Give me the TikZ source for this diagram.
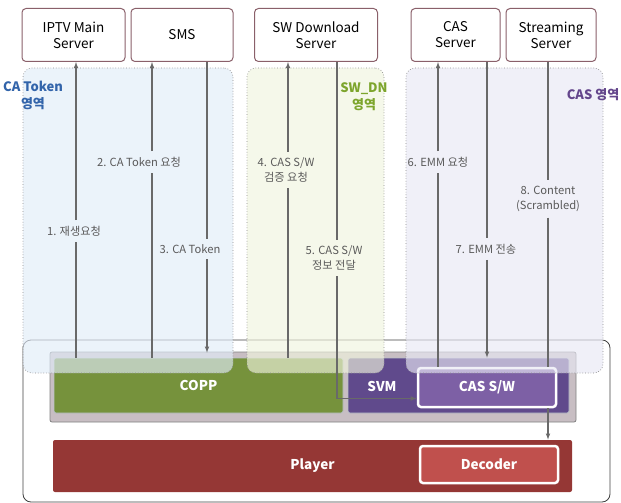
\documentclass[tikz,border=0pt]{standalone}
\usepackage{fontspec}
\setmainfont{Noto Sans CJK KR}
\usetikzlibrary{%
  arrows,%
  positioning,%
  calc}
\definecolor{srvborder}{RGB}{138,96,106}
\definecolor{flowgray}{RGB}{105,105,105}
\definecolor{msgtext}{RGB}{90,90,90}
\definecolor{cablue}{RGB}{225,236,248}
\definecolor{cabluetext}{RGB}{50,100,170}
\definecolor{swgreen}{RGB}{240,244,222}
\definecolor{swgreentext}{RGB}{125,165,45}
\definecolor{caspurple}{RGB}{232,232,244}
\definecolor{caspurpletext}{RGB}{100,70,140}
\definecolor{coppgreen}{RGB}{118,146,60}
\definecolor{svmpurple}{RGB}{96,74,140}
\definecolor{caswpurple}{RGB}{125,96,165}
\definecolor{playerred}{RGB}{149,55,53}
\definecolor{decoderred}{RGB}{192,80,77}
\definecolor{bandgray}{RGB}{200,190,195}

\begin{document}
\begin{tikzpicture}[
  x=1pt, y=-1pt, >=latex, line width=0.75pt,
  font=\fontsize{11}{13}\selectfont,
  server/.style={rectangle, draw=srvborder, fill=white, rounded corners=4pt, line width=1pt, align=center, inner sep=0pt, font=\fontsize{13.5}{16}\selectfont},
  area/.style={rectangle, draw=gray!90, dotted, line width=0.7pt, rounded corners=9pt, fill opacity=0.65, inner sep=0pt},
  areatext/.style={align=center, font=\bfseries\fontsize{13}{17}\selectfont, inner sep=0pt},
  block/.style={rectangle, rounded corners=2pt, text=white, font=\bfseries\fontsize{13.5}{16}\selectfont, inner sep=0pt},
  blocktext/.style={text=white, font=\bfseries\fontsize{13.5}{16}\selectfont, inner sep=0pt},
  msg/.style={align=center, text=msgtext, inner ysep=5.5pt, inner xsep=1pt, font=\fontsize{11.2}{15}\selectfont},
  flow/.style={draw=flowgray, line width=1.1pt}
]
\useasboundingbox (0,0) rectangle (621,503);

% servers
\node[server, minimum width=103pt, minimum height=53pt] (iptv) at (73.5,35) {IPTV Main\\Server};
\node[server, minimum width=102pt, minimum height=53pt] (sms) at (182,35) {SMS};
\node[server, minimum width=123pt, minimum height=53pt] (swdn) at (316,35) {SW Download\\Server};
\node[server, minimum width=89pt, minimum height=53pt] (cas) at (455.5,35) {CAS\\Server};
\node[server, minimum width=90pt, minimum height=53pt] (stream) at (551,35) {Streaming\\Server};

% terminal
\node[rectangle, draw=black!75, rounded corners=8pt, line width=0.8pt, minimum width=587pt, minimum height=162pt, inner sep=0pt] (stb) at (316.5,421) {};
\node[rectangle, draw=gray, fill=bandgray, rounded corners=2pt, minimum width=526pt, minimum height=70pt, inner sep=0pt] (band) at (313,387) {};
\node[block, fill=coppgreen, draw=cablue!60!gray, minimum width=289pt, minimum height=55pt] (copp) at (198.5,385.5) {COPP};
\node[block, fill=svmpurple, draw=cablue!60!gray, minimum width=221pt, minimum height=55pt] (svm) at (458.5,385.5) {};
\node[blocktext] (svmtext) at (382,386) {SVM};
\node[block, fill=caswpurple, draw=white, line width=2.5pt, rounded corners=3pt, minimum width=138pt, minimum height=39pt] (cassw) at (487,387.5) {CAS S/W};
\node[block, fill=playerred, minimum width=519pt, minimum height=52pt] (player) at (312.5,466) {Player};
\node[block, fill=decoderred, draw=white, line width=2.5pt, rounded corners=3pt, minimum width=138pt, minimum height=37pt] (decoder) at (489,464.5) {Decoder};

% areas
\node[area, fill=cablue, minimum width=210pt, minimum height=305pt] (caarea) at (128,220.5) {};
\node[area, fill=swgreen, minimum width=137pt, minimum height=305pt] (swarea) at (315.5,220.5) {};
\node[area, fill=caspurple, minimum width=197pt, minimum height=305pt] (casarea) at (504.5,220.5) {};
\node[areatext, text=cabluetext] (catxt) at (33,95) {CA Token\\영역};
\node[areatext, text=swgreentext] (swtxt) at (364,97) {SW\_DN\\영역};
\node[areatext, text=caspurpletext] (castxt) at (593,95) {CAS 영역};

% messages
\node[msg] (m1) at (74,231) {1. 재생요청};
\node[msg] (m2) at (139,162) {2. CA Token 요청};
\node[msg] (m3) at (190,249) {3. CA Token};
\node[msg] (m4) at (286,170) {4. CAS S/W\\검증 요청};
\node[msg] (m5) at (334,258) {5. CAS S/W\\정보 전달};
\node[msg] (m6) at (438,162) {6. EMM 요청};
\node[msg] (m7) at (486,249) {7. EMM 전송};
\node[msg] (m8) at (548,199) {8. Content\\(Scrambled)};

\draw[flow] (copp.north -| 76,0) -- (m1.south -| 76,0);
\draw[flow,->] (m1.north -| 76,0) -- (iptv.south -| 76,0);
\draw[flow] (copp.north -| 152,0) -- (m2.south -| 152,0);
\draw[flow,->] (m2.north -| 152,0) -- (sms.south -| 152,0);
\draw[flow] (sms.south -| 207,0) -- (m3.north -| 207,0);
\draw[flow,->] (m3.south -| 207,0) -- ([yshift=5pt]copp.north -| 207,0);
\draw[flow] (copp.north -| 288,0) -- (m4.south -| 288,0);
\draw[flow,->] (m4.north -| 288,0) -- (swdn.south -| 288,0);
\draw[flow] (swdn.south -| 337,0) -- (m5.north -| 337,0);
\draw[flow,->] (m5.south -| 337,0) |- ([yshift=-11pt]cassw.west);
\draw[flow] (cassw.north -| 438,0) -- (m6.south -| 438,0);
\draw[flow,->] (m6.north -| 438,0) -- (cas.south -| 438,0);
\draw[flow] (cas.south -| 487,0) -- (m7.north -| 487,0);
\draw[flow,->] (m7.south -| 487,0) -- (svm.north -| 487,0);
\draw[flow] (stream.south -| 548,0) -- (m8.north -| 548,0);
\draw[flow] (m8.south -| 548,0) -- (cassw.north -| 548,0);
\draw[flow,->] (cassw.south -| 548,0) -- (player.north -| 548,0);

\end{tikzpicture}
\end{document}
